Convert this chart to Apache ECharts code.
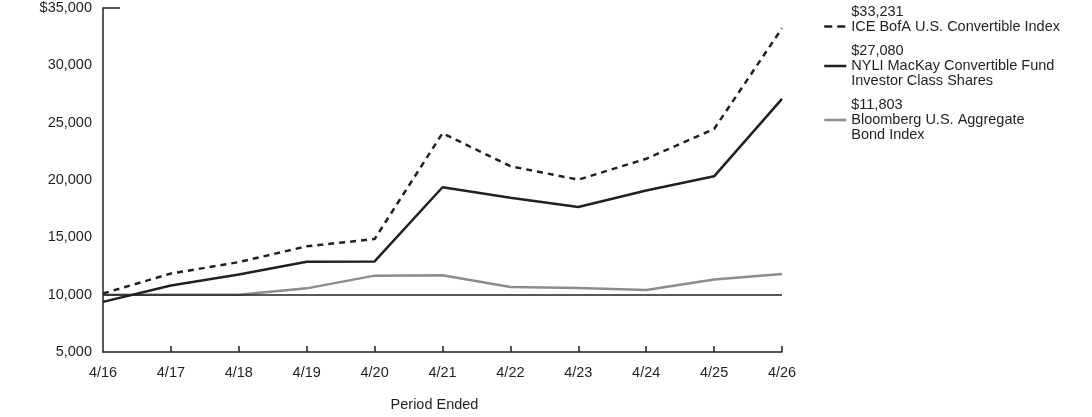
<!DOCTYPE html>
<html>
<head>
<meta charset="utf-8">
<script src="https://cdn.jsdelivr.net/npm/echarts@6/dist/echarts.min.js"></script>
<style>
  html, body { margin: 0; padding: 0; background: #fff; }
  #chart { width: 1092px; height: 417px; }
</style>
</head>
<body>
<div id="chart"></div>
<script>
const periods = ['4/16', '4/17', '4/18', '4/19', '4/20', '4/21', '4/22', '4/23', '4/24', '4/25', '4/26']
const iceValues = [10100, 11840, 12840, 14220, 14850, 24080, 21200, 20030, 21850, 24450, 33231]
const nyliValues = [9370, 10800, 11750, 12870, 12900, 19370, 18450, 17650, 19080, 20320, 27080]
const bondValues = [10000, 10000, 9990, 10550, 11660, 11700, 10660, 10580, 10400, 11320, 11803]
const seriesNames = [
  'ICE BofA U.S. Convertible Index',
  'NYLI MacKay Convertible Fund\nInvestor Class Shares',
  'Bloomberg U.S. Aggregate\nBond Index'
]
const endingLabels = ['$33,231', '$27,080', '$11,803']
const yTicks = { min: 5000, max: 35000, interval: 5000 }
const baseline = 10000

const font = 'Liberation Sans, Arial, sans-serif'
const fontSize = 14.5
const ink = '#231f20'
const grey = '#8c8c8c'

const myChart = echarts.init(document.getElementById('chart'))

// one legend per series so every entry can sit where the original has it
const legendTops = [4, 43.5, 97.5]
const legends = seriesNames.map((name, i) => ({
  data: [name],
  orient: 'vertical',
  left: 823,
  top: legendTops[i],
  padding: 0,
  itemWidth: 22,
  itemHeight: 10,
  selectedMode: false,
  itemStyle: { opacity: 0 }, // hide the symbol, keep only the line
  lineStyle: i === 0 ? { type: [8, 5], width: 2.5 } : { width: 2.5 },
  formatter: function () {
    // dollar value on top, blank line at end so the icon sits on the name's first line
    let txt = endingLabels[i] + '\n' + name
    if (name.indexOf('\n') < 0) txt += '\n '
    return txt
  },
  textStyle: {
    color: ink,
    fontFamily: font,
    fontSize: fontSize,
    lineHeight: 15
  }
}))

const option = {
  animation: false,
  backgroundColor: '#fff',
  grid: { left: 103, right: 310, top: 8, bottom: 61 },
  legend: legends,
  xAxis: {
    type: 'category',
    data: periods,
    boundaryGap: false,
    name: 'Period Ended',
    nameLocation: 'middle',
    nameGap: 45,
    nameTextStyle: { color: ink, fontFamily: font, fontSize: fontSize, padding: [0, 16, 0, 0] },
    axisLine: { lineStyle: { color: ink, width: 1.5 } },
    axisTick: {
      inside: true,
      length: 6,
      lineStyle: { color: ink, width: 1.5 },
      interval: function (idx) { return idx > 0 }
    },
    axisLabel: { color: ink, fontFamily: font, fontSize: fontSize, margin: 13 },
    splitLine: { show: false }
  },
  yAxis: {
    type: 'value',
    min: yTicks.min,
    max: yTicks.max,
    interval: yTicks.interval,
    axisLine: { show: true, lineStyle: { color: ink, width: 1.5 } },
    axisTick: { show: false },
    splitLine: { show: false },
    axisLabel: {
      color: ink,
      fontFamily: font,
      fontSize: fontSize,
      margin: 11,
      formatter: function (v) {
        const s = v.toLocaleString('en-US')
        return v === yTicks.max ? '$' + s : s
      }
    }
  },
  series: [
    {
      name: seriesNames[0],
      type: 'line',
      data: iceValues,
      symbol: 'none',
      lineStyle: { color: ink, width: 2.5, type: [6, 5] },
      itemStyle: { color: ink },
      z: 4
    },
    {
      name: seriesNames[1],
      type: 'line',
      data: nyliValues,
      symbol: 'none',
      lineStyle: { color: ink, width: 2.5 },
      itemStyle: { color: ink },
      z: 3,
      markLine: {
        silent: true,
        symbol: 'none',
        label: { show: false },
        lineStyle: { color: ink, width: 1.5, type: 'solid' },
        data: [{ yAxis: baseline }]
      }
    },
    {
      name: seriesNames[2],
      type: 'line',
      data: bondValues,
      symbol: 'none',
      lineStyle: { color: grey, width: 2.5 },
      itemStyle: { color: grey },
      z: 2
    }
  ]
}

myChart.setOption(option)

// short tick at the top of the value axis
const topPt = myChart.convertToPixel({ xAxisIndex: 0, yAxisIndex: 0 }, [0, yTicks.max])
myChart.setOption({
  graphic: [{
    type: 'line',
    shape: { x1: topPt[0], y1: topPt[1], x2: topPt[0] + 17, y2: topPt[1] },
    style: { stroke: ink, lineWidth: 1.5 }
  }]
})
</script>
</body>
</html>
